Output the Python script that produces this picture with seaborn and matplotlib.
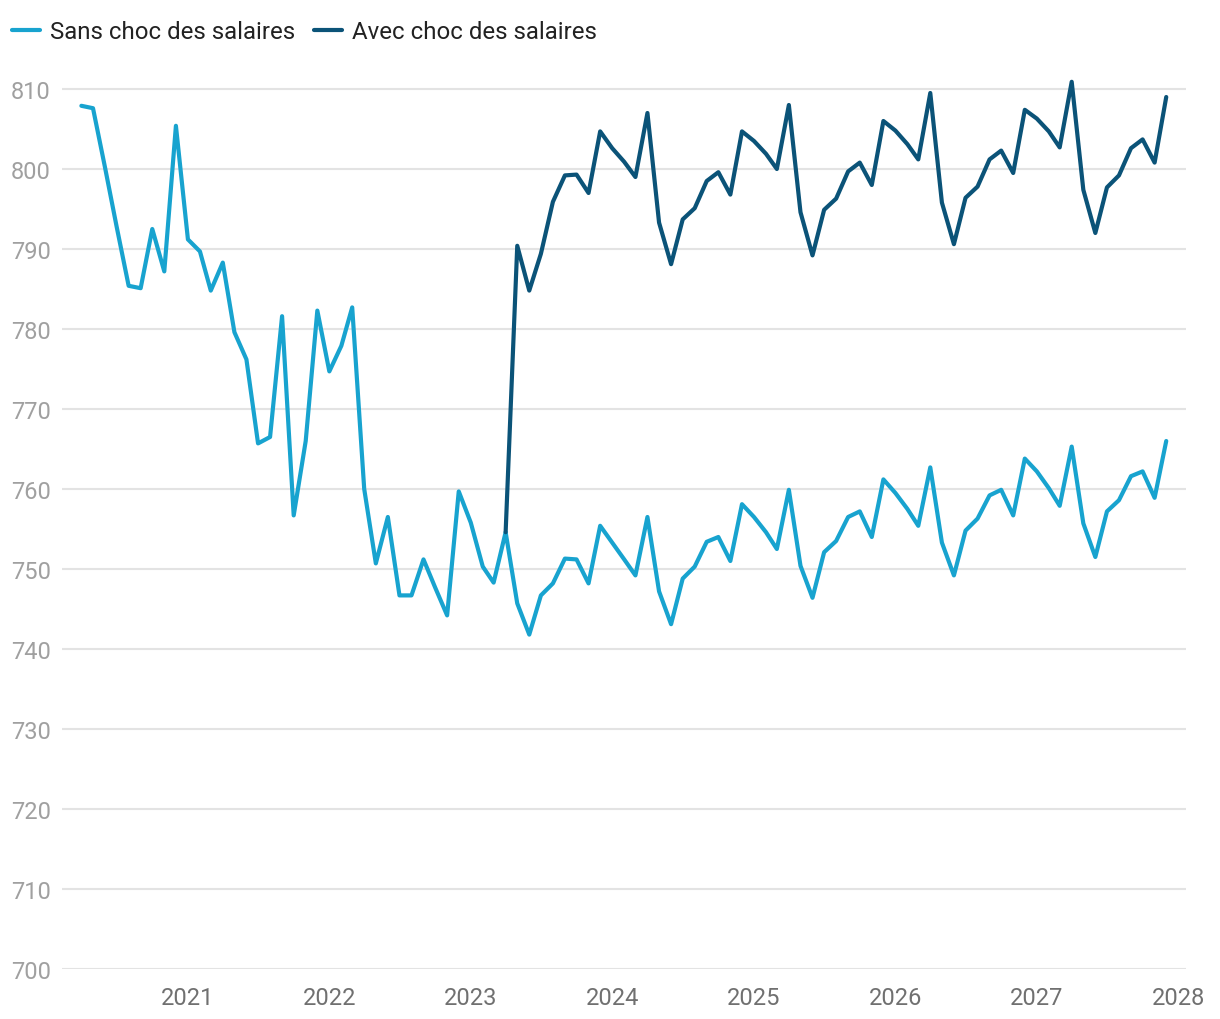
import matplotlib
matplotlib.use("Agg")
import matplotlib.pyplot as plt
from matplotlib.lines import Line2D
import numpy as np
import pandas as pd
import seaborn as sns

# ---- data ----
months = pd.date_range("2020-04-01", "2027-12-01", freq="MS")

sans_choc = [
    807.9, 807.6, 800.2, 792.8, 785.4, 785.1, 792.5, 787.2, 805.4,
    791.2, 789.7, 784.8, 788.3, 779.6, 776.2, 765.7, 766.5, 781.6, 756.7, 766.0, 782.3,
    774.7, 777.9, 782.7, 760.0, 750.7, 756.5, 746.7, 746.7, 751.2, 747.7, 744.2, 759.7,
    755.8, 750.3, 748.3, 754.6, 745.7, 741.8, 746.7, 748.2, 751.3, 751.2, 748.2, 755.4,
    753.3, 751.2, 749.2, 756.5, 747.2, 743.1, 748.8, 750.3, 753.4, 754.0, 751.0, 758.1,
    756.5, 754.6, 752.5, 759.9, 750.4, 746.4, 752.1, 753.5, 756.5, 757.2, 754.0, 761.2,
    759.5, 757.5, 755.4, 762.7, 753.3, 749.2, 754.8, 756.3, 759.2, 759.9, 756.7, 763.8,
    762.2, 760.1, 757.9, 765.3, 755.7, 751.5, 757.2, 758.6, 761.6, 762.2, 758.9, 766.0,
]

avec_choc_start = 36  # index of first month of the second series
avec_choc = [
    754.6, 790.4, 784.8, 789.4, 795.9, 799.2, 799.3, 797.0, 804.7,
    802.6, 800.9, 799.0, 807.0, 793.3, 788.1, 793.7, 795.1, 798.5, 799.6, 796.8, 804.7,
    803.5, 801.9, 800.0, 808.0, 794.6, 789.2, 794.9, 796.3, 799.7, 800.8, 798.0, 806.0,
    804.8, 803.1, 801.2, 809.5, 795.8, 790.6, 796.4, 797.8, 801.2, 802.3, 799.5, 807.4,
    806.3, 804.7, 802.7, 810.9, 797.4, 792.0, 797.7, 799.2, 802.6, 803.7, 800.8, 809.0,
]

series_names = ["Sans choc des salaires", "Avec choc des salaires"]
colors = ["#18a3cf", "#0b5378"]
year_ticks = [str(y) for y in range(2021, 2029)]
y_ticks = list(range(700, 811, 10))

df = pd.concat([
    pd.DataFrame({"date": months, "value": sans_choc, "serie": series_names[0]}),
    pd.DataFrame({"date": months[avec_choc_start:], "value": avec_choc, "serie": series_names[1]}),
], ignore_index=True)

# ---- style ----
sns.set_style("white")
plt.rcParams["font.family"] = ["Roboto", "DejaVu Sans"]

fig = plt.figure(figsize=(12.2, 10.2), dpi=100)
ax = fig.add_axes([62 / 1220, 1 - 970 / 1020, (1186 - 62) / 1220, (970 - 74) / 1020])

sns.lineplot(data=df, x="date", y="value", hue="serie", hue_order=series_names,
             palette=colors, linewidth=3.0, ax=ax, legend=False,
             estimator=None, sort=True)
for ln in ax.lines:
    ln.set_solid_joinstyle("round")
    ln.set_solid_capstyle("round")

ax.set_ylim(700, 812)
ax.set_xlim(pd.Timestamp("2020-02-11"), pd.Timestamp("2028-01-21"))
ax.set_yticks(y_ticks)
ax.set_yticklabels([str(v) for v in y_ticks])
ax.set_xticks([pd.Timestamp(f"{y}-01-01") for y in year_ticks])
ax.set_xticklabels(year_ticks)
ax.set_xlabel("")
ax.set_ylabel("")

ax.grid(axis="y", color="#e3e3e3", linewidth=1.5)
ax.grid(axis="x", visible=False)
ax.set_axisbelow(True)
for s in ax.spines.values():
    s.set_visible(False)
ax.tick_params(axis="y", length=0, pad=8, labelsize=17, labelcolor="#a0a0a0")
ax.tick_params(axis="x", length=0, pad=12, labelsize=17, labelcolor="#707070")

handles = [Line2D([0], [0], color=c, linewidth=3.0) for c in colors]
fig.legend(handles, series_names, loc="upper left", bbox_to_anchor=(12 / 1220, 1 - 21 / 1020),
           ncol=2, frameon=False, fontsize=17.3, handlelength=1.18, handletextpad=0.42,
           columnspacing=0.75, borderpad=0, borderaxespad=0, labelcolor="#222222")

fig.savefig("out.png", dpi=100)
